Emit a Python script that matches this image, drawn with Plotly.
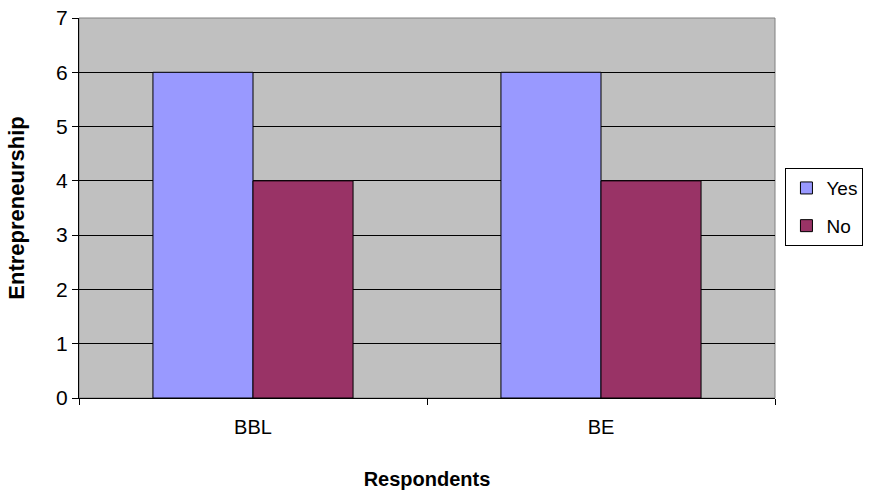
import plotly.graph_objects as go

# Survey counts per respondent group
groups = ["BBL", "BE"]
yes_counts = [6, 6]
no_counts = [4, 4]
y_ticks = [0, 1, 2, 3, 4, 5, 6, 7]

font_family = "Liberation Sans, Arial, sans-serif"

fig = go.Figure()
fig.add_trace(go.Bar(
    x=groups, y=yes_counts, name="Yes", legendgroup="yes",
    marker=dict(color="#9999FF", line=dict(color="#000000", width=1)),
))
fig.add_trace(go.Bar(
    x=groups, y=no_counts, name="No", legendgroup="no",
    marker=dict(color="#993366", line=dict(color="#000000", width=1)),
))

# grey frame around the plotting area (sits above the gridlines)
fig.add_shape(type="rect", xref="paper", yref="paper", x0=0, x1=1, y0=0, y1=1,
              line=dict(color="#808080", width=1), layer="between")

fig.update_layout(
    width=869, height=491,
    margin=dict(l=79, r=94, t=18, b=93, autoexpand=False),
    paper_bgcolor="#FFFFFF",
    plot_bgcolor="#C0C0C0",
    barmode="group",
    bargap=0.425,
    bargroupgap=0,
    font=dict(family=font_family, size=20, color="#000000"),
    showlegend=True,
    legend=dict(
        x=1.015, y=0.605, xanchor="left", yanchor="top",
        bordercolor="#000000", borderwidth=1,
        bgcolor="#FFFFFF",
        font=dict(size=19, family=font_family),
        traceorder="grouped", tracegroupgap=10,
        itemwidth=30,
    ),
    xaxis=dict(
        title=dict(text="<b>Respondents</b>", font=dict(size=20), standoff=34),
        showline=True, linecolor="#000000", linewidth=1,
        ticks="outside", ticklen=6, tickcolor="#000000",
        tickson="boundaries",
        ticklabelstandoff=11,
        showgrid=False,
        tickfont=dict(size=20),
    ),
    yaxis=dict(
        title=dict(text="<b>Entrepreneurship</b>", font=dict(size=22), standoff=25),
        range=[0, 7],
        tickvals=y_ticks,
        showline=True, linecolor="#000000", linewidth=1,
        ticks="outside", ticklen=6, tickcolor="#000000",
        showgrid=True, gridcolor="#000000", gridwidth=1,
        zeroline=False,
        tickfont=dict(size=21),
    ),
)

fig.write_html("out.html")
